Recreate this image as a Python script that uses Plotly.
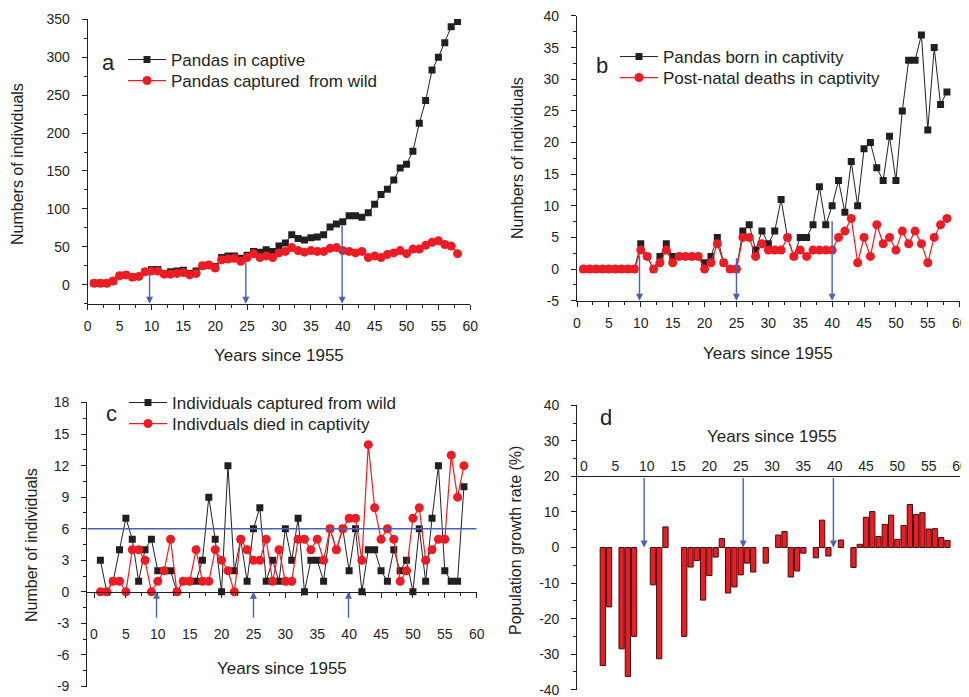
import plotly.graph_objects as go

years = list(range(1, 59))

# Panel a
captive = [2, 2, 2, 5, 12, 13, 10, 11, 17, 20, 20, 15, 17, 18, 19, 15, 18, 25, 26, 24,
           36, 38, 38, 35, 39, 44, 43, 46, 44, 51, 55, 66, 61, 59, 62, 63, 66, 76, 80, 83,
           91, 91, 89, 95, 106, 119, 126, 138, 154, 159, 176, 213, 243, 283, 300, 319, 340, 347]
captured_cum = [2, 2, 2, 5, 12, 13, 10, 11, 17, 18, 18, 14, 14, 15, 16, 13, 15, 25, 26, 22,
                33, 34, 35, 31, 36, 41, 36, 38, 36, 42, 44, 49, 45, 43, 45, 44, 44, 48, 49, 45,
                44, 42, 44, 36, 38, 36, 40, 42, 45, 41, 47, 47, 52, 56, 58, 53, 51, 41]

# Panel b
born = [0, 0, 0, 0, 0, 0, 0, 0, 0, 4, 2, 0, 2, 4, 2, 2, 2, 2, 2, 1,
        2, 5, 1, 0, 0, 6, 7, 3, 6, 4, 6, 11, 5, 2, 5, 5, 7, 13, 7, 10,
        14, 9, 17, 10, 19, 20, 16, 14, 21, 14, 25, 33, 33, 37, 22, 35, 26, 28]
postnatal = [0, 0, 0, 0, 0, 0, 0, 0, 0, 3, 2, 0, 1, 3, 1, 2, 2, 2, 2, 0,
             1, 4, 1, 0, 0, 5, 5, 2, 4, 3, 3, 3, 5, 2, 3, 2, 3, 3, 3, 3,
             5, 6, 8, 1, 5, 2, 7, 4, 5, 3, 6, 4, 6, 4, 1, 5, 7, 8]

# Panel c
captured = [3, 0, 1, 4, 7, 5, 1, 4, 5, 2, 2, 2, 0, 1, 1, 1, 3, 9, 5, 0,
            12, 2, 5, 1, 6, 8, 1, 3, 1, 6, 3, 7, 0, 3, 3, 1, 6, 4, 6, 2,
            6, 0, 4, 4, 2, 1, 4, 2, 3, 0, 6, 1, 7, 12, 2, 1, 1, 10]
died = [0, 0, 1, 1, 0, 4, 4, 3, 0, 1, 2, 5, 0, 1, 1, 4, 1, 1, 4, 3,
        2, 0, 5, 4, 3, 3, 5, 1, 4, 1, 1, 5, 5, 4, 5, 3, 6, 4, 6, 7,
        7, 3, 14, 8, 5, 6, 5, 1, 2, 7, 8, 3, 4, 5, 5, 13, 9, 12]
threshold = 6

# Panel d
growth = [None, None, -33.2, -16.7, None, -28.5, -36.3, -25.0, None, None,
          -10.5, -31.3, 5.8, None, None, -25.0, -5.5, -3.7, -14.8, -7.9,
          -2.7, 2.5, -12.8, -11.1, -7.7, -4.4, -6.9, None, -4.4, None,
          3.5, 4.5, -8.3, -6.6, -1.6, None, -2.9, 7.7, -2.4, None,
          2.1, None, -5.6, 0.9, 8.5, 10.1, 3.1, 6.5, 9.1, 2.3,
          6.2, 12.1, 9.3, 9.8, 5.2, 5.3, 2.8, 2.0]

x_ticks = [0, 5, 10, 15, 20, 25, 30, 35, 40, 45, 50, 55, 60]
ya_ticks = [0, 50, 100, 150, 200, 250, 300, 350]
yb_ticks = [-5, 0, 5, 10, 15, 20, 25, 30, 35, 40]
yc_ticks = [-9, -6, -3, 0, 3, 6, 9, 12, 15, 18]
yd_ticks = [-40, -30, -20, -10, 0, 10, 20, 30, 40]

RED = "#ED1C24"
BLACK = "#231F20"
BLUE = "#4862B8"
FONT = "Arial, Liberation Sans, sans-serif"
PAGE_W, PAGE_H = 969, 697
OFF = 8  # default page body margin
W, H = PAGE_W - OFF, PAGE_H - OFF

def px_x(p):
    return (p - OFF) / W

def px_y(p):
    return 1 - (p - OFF) / H

def labels(vals):
    return [str(v) for v in vals]  # plain hyphen-minus like the reference

fig = go.Figure()

def line_trace(y, name, kind, xa, ya, legend):
    if kind == "black":
        marker = dict(symbol="square", size=7, color=BLACK)
        line = dict(color=BLACK, width=1)
    else:
        marker = dict(symbol="circle", size=9, color=RED)
        line = dict(color=RED, width=1.2)
    return go.Scatter(x=years, y=y, mode="lines+markers", name=name, marker=marker,
                      line=line, xaxis=xa, yaxis=ya, legend=legend)

fig.add_trace(line_trace(captive, "Pandas in captive", "black", "x", "y", "legend"))
fig.add_trace(line_trace(captured_cum, "Pandas captured  from wild", "red", "x", "y", "legend2"))
fig.add_trace(line_trace(born, "Pandas born in captivity", "black", "x2", "y2", "legend3"))
fig.add_trace(line_trace(postnatal, "Post-natal deaths in captivity", "red", "x2", "y2", "legend4"))
fig.add_trace(line_trace(captured, "Individuals captured from wild", "black", "x3", "y3", "legend5"))
fig.add_trace(line_trace(died, "Indivduals died in captivity", "red", "x3", "y3", "legend6"))
fig.add_trace(go.Bar(x=years, y=growth, width=0.84,
                     marker=dict(color=RED, line=dict(color="#3a1010", width=1)),
                     xaxis="x4", yaxis="y4", showlegend=False))

tickfont = dict(family=FONT, size=14, color=BLACK)

def xaxis(domain, anchor, rng=(0, 60), **kw):
    d = dict(domain=domain, anchor=anchor, range=list(rng), tickvals=x_ticks,
             ticktext=labels(x_ticks), showline=True, ticklabeloverflow="allow",
             linecolor=BLACK, linewidth=1.2, ticks="outside", ticklen=5, tickcolor=BLACK,
             showgrid=False, zeroline=False, tickfont=tickfont, automargin=False,
             minor=dict(ticks="outside", ticklen=3, dtick=2.5, tickcolor=BLACK))
    d.update(kw)
    return d

def yaxis(domain, anchor, rng, ticks, minor, **kw):
    eps = (rng[1] - rng[0]) * 0.001
    d = dict(domain=domain, anchor=anchor, range=[rng[0] - eps, rng[1] + eps],
             tickvals=ticks, ticktext=labels(ticks), showline=True, ticklabeloverflow="allow",
             linecolor=BLACK, linewidth=1.2, ticks="outside", ticklen=5, tickcolor=BLACK,
             showgrid=False, zeroline=False, tickfont=tickfont, automargin=False,
             ticklabelstandoff=9,
             minor=dict(ticks="outside", ticklen=3, dtick=minor, tick0=0, tickcolor=BLACK))
    d.update(kw)
    return d

ya_dom = [px_y(304), px_y(19)]
yb_dom = [px_y(301), px_y(15.7)]
yc_dom = [px_y(686.7), px_y(402.3)]
yd_dom = [px_y(690), px_y(405)]

fig.update_layout(
    width=W, height=H, margin=dict(l=0, r=0, t=0, b=0, autoexpand=False),
    paper_bgcolor="white", plot_bgcolor="white",
    font=dict(family=FONT, color=BLACK),
    xaxis=xaxis([px_x(87.7), px_x(470.3)], "y", ticklabelstandoff=4),
    yaxis=yaxis(ya_dom, "x", [-25, 350], ya_ticks, 25),
    xaxis2=xaxis([px_x(577), px_x(959.7)], "y2", ticklabelstandoff=4),
    yaxis2=yaxis(yb_dom, "x2", [-5, 40], yb_ticks, 2.5),
    xaxis3=xaxis([px_x(87.3), px_x(476.7)], "free", rng=(-1.05, 60),
                 position=yc_dom[0] + 9 / 27 * (yc_dom[1] - yc_dom[0]),
                 ticklabelstandoff=24),
    yaxis3=yaxis(yc_dom, "x3", [-9, 18], yc_ticks, 1.5),
    xaxis4=xaxis([px_x(577.3), px_x(960)], "free", rng=(-1.07, 60), side="top", ticks="",
                 ticklen=0, minor=dict(ticks=""), ticklabelstandoff=0,
                 position=yd_dom[0] + 0.75 * (yd_dom[1] - yd_dom[0])),
    xaxis5=xaxis([px_x(577.3), px_x(960)], "free", rng=(-1.07, 60), overlaying="x4",
                 showticklabels=False,
                 position=yd_dom[0] + 0.5 * (yd_dom[1] - yd_dom[0]), linecolor="#8a8a8a",
                 tickcolor="#555555"),
    yaxis4=yaxis(yd_dom, "x4", [-40, 40], yd_ticks, 5),
)

# legends: one entry each, placed at reference rows
legend_common = dict(font=dict(family=FONT, size=17, color=BLACK), bgcolor="rgba(0,0,0,0)",
                     xanchor="left", yanchor="middle", itemwidth=38, borderwidth=0)
legend_pos = [(128, 60), (128, 81), (620, 57), (620, 78), (129, 403), (129, 424)]
names = ["legend", "legend2", "legend3", "legend4", "legend5", "legend6"]
for nm, (lx, ly) in zip(names, legend_pos):
    fig.update_layout({nm: dict(x=px_x(lx - 5), y=px_y(ly), **legend_common)})

# panel letters
for txt, lx, ly in [("a", 108, 63), ("b", 602, 65), ("c", 111, 413), ("d", 606, 417)]:
    fig.add_annotation(text=txt, x=px_x(lx), y=px_y(ly), xref="paper", yref="paper",
                       xanchor="center", yanchor="middle",
                       showarrow=False, font=dict(family=FONT, size=22, color=BLACK))

# axis titles
xt = dict(family=FONT, size=17, color=BLACK)
yt = dict(family=FONT, size=16, color=BLACK)
for lx, ly in [(279, 355), (768, 353), (282, 668), (772, 436)]:
    fig.add_annotation(text="Years since 1955", x=px_x(lx), y=px_y(ly), xref="paper",
                       yref="paper", xanchor="center", yanchor="middle", showarrow=False, font=xt)
for txt, lx, ly in [("Numbers of individuals", 18, 164), ("Numbers of individuals", 518, 158),
                    ("Number of individuals", 31, 545), ("Population growth rate (%)", 515, 541)]:
    fig.add_annotation(text=txt, x=px_x(lx), y=px_y(ly), xref="paper", yref="paper",
                       xanchor="center", yanchor="middle",
                       showarrow=False, textangle=-90, font=yt)

# threshold line in c
fig.add_shape(type="line", x0=-1.05, x1=60, y0=threshold, y1=threshold, xref="x3", yref="y3",
              line=dict(color=BLUE, width=1.3))

def arrow(xa, ya, x, y_head, y_tail):
    fig.add_annotation(x=x, y=y_head, ax=x, ay=y_tail, xref=xa, yref=ya, axref=xa, ayref=ya,
                       showarrow=True, arrowhead=2, arrowsize=1, arrowwidth=1.4,
                       arrowcolor=BLUE, text="")

a_tails = [22, 33, 80]
b_tails = [2.3, 2.0, 7.8]
a_x = [9.7, 24.8, 39.9]
b_x = [9.8, 25.0, 40.0]
c_x = [9.8, 25.0, 39.9]
d_x = [9.6, 25.4, 39.8]
for i in range(3):
    arrow("x", "y", a_x[i], -25, a_tails[i])
    arrow("x2", "y2", b_x[i], -5, b_tails[i])
    arrow("x3", "y3", c_x[i], 0, -2.6)
    arrow("x4", "y4", d_x[i], 0, 20)

fig.write_html("out.html")
